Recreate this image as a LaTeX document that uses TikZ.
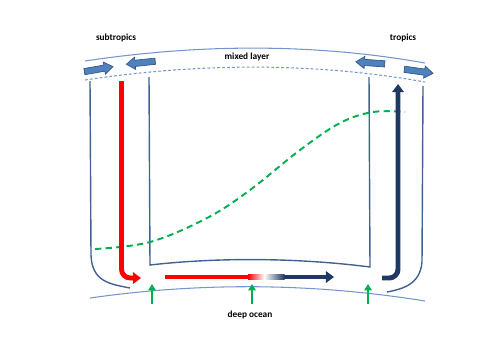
\documentclass[tikz,border=0pt]{standalone}
\usepackage{fontspec}
\setmainfont{Carlito}
\usetikzlibrary{arrows.meta, shapes.arrows}
\definecolor{wallblue}{RGB}{68,98,145}
\definecolor{lineblue}{RGB}{115,150,205}
\definecolor{blockfill}{RGB}{79,129,189}
\definecolor{blockdraw}{RGB}{52,88,135}
\definecolor{navy}{RGB}{31,56,100}
\definecolor{sgreen}{RGB}{0,176,80}
\tikzset{
wall/.style={draw=wallblue, line width=0.8pt},
surface/.style={draw=lineblue, line width=0.6pt},
layerline/.style={draw=lineblue, line width=0.6pt, dash pattern=on 1.6pt off 1.2pt},
blockarrow/.style={
       single arrow,
       draw=blockdraw,
       fill=blockfill,
       line width=0.4pt,
       minimum height=0.58cm,
       inner xsep=0pt,
       inner ysep=0.055cm,
       single arrow head extend=0.06cm,
       single arrow tip angle=70,
       },
flow/.style={line width=2.8pt, rounded corners=5pt, -{Triangle[width=6.5pt,length=4.6pt]}},
upwelling/.style={draw=sgreen, line width=1.3pt, -{Triangle[width=4.2pt,length=3.6pt]}},
tag/.style={font=\bfseries\fontsize{5.3}{6}\selectfont, inner sep=0pt},
}
\begin{document}
\begin{tikzpicture}[x=0.02cm, y=-0.02cm]
    \useasboundingbox (0,0) rectangle (489,349);

    % Labels
    \node[tag] (subtropics) at (116,38) {subtropics};
    \node[tag] (tropics) at (403,38) {tropics};
    \node[tag] (mixed) at (247,57) {mixed layer};
    \node[tag] (deep) at (250,315) {deep ocean};

    % Sea surface, base of the mixed layer and top of the deep ocean
    \draw[surface] (85,61) .. controls (205,43) and (318,44) .. (425,63);
    \draw[layerline] (85,80) .. controls (205,62) and (318,63) .. (425,82);
    \draw[surface] (90,298) .. controls (202,282) and (313,283) .. (425,301);

    % Walls
    \draw[wall] (90,81) -- (91,255) .. controls (92,282) and (110,284) .. (130,288);
    \draw[wall] (149,77) -- (150,265) .. controls (220,257) and (300,258) .. (370,267) -- (369,77);
    \draw[wall] (423,86) -- (422,262) .. controls (420,285) and (402,289) .. (387,292);

    % Green dashed curve
    \draw[sgreen, line width=1.1pt, dash pattern=on 3.6pt off 2.4pt]
        plot[smooth, tension=0.6] coordinates {(95,249) (150,242) (207,218) (250,190) (300,150) (340,123) (373,112) (405,112)};

    % Arrows in the mixed layer
    \foreach \n/\x/\y/\a in {
        westin/96.5/69.5/10,
        westout/143/62.5/186,
        eastout/372.5/63/176,
        eastin/416.5/71/-8
    } {
        \node[blockarrow, rotate=\a] (\n) at (\x,\y) {};
    }

    % Upwelling from the deep ocean
    \foreach \n/\x in {upA/152, upB/252, upC/368} {
        \coordinate (\n) at (\x,304);
        \draw[upwelling] (\n) -- ++(0,-20);
    }

    % Sinking branch
    \coordinate (sinktop) at (121.5,81);
    \coordinate (sinkend) at (141,278);
    \draw[flow, red] (sinktop) |- (sinkend);

    % Deep return flow, red to blue
    \coordinate (deepstart) at (165,277);
    \coordinate (deepend) at (334,277);
    \fill[red] ([yshift=-1.4pt]deepstart) rectangle ([yshift=1.4pt]248.5,277);
    \shade[left color=red, right color=white] ([yshift=-1.4pt]248,277) rectangle ([yshift=1.4pt]264.5,277);
    \shade[left color=white, right color=navy] ([yshift=-1.4pt]264,277) rectangle ([yshift=1.4pt]284.5,277);
    \draw[flow, navy] (284,277) -- (deepend);

    % Rising branch
    \coordinate (risestart) at (382,278);
    \coordinate (risetop) at (398,84);
    \draw[flow, navy] (risestart) -| (risetop);
\end{tikzpicture}
\end{document}
